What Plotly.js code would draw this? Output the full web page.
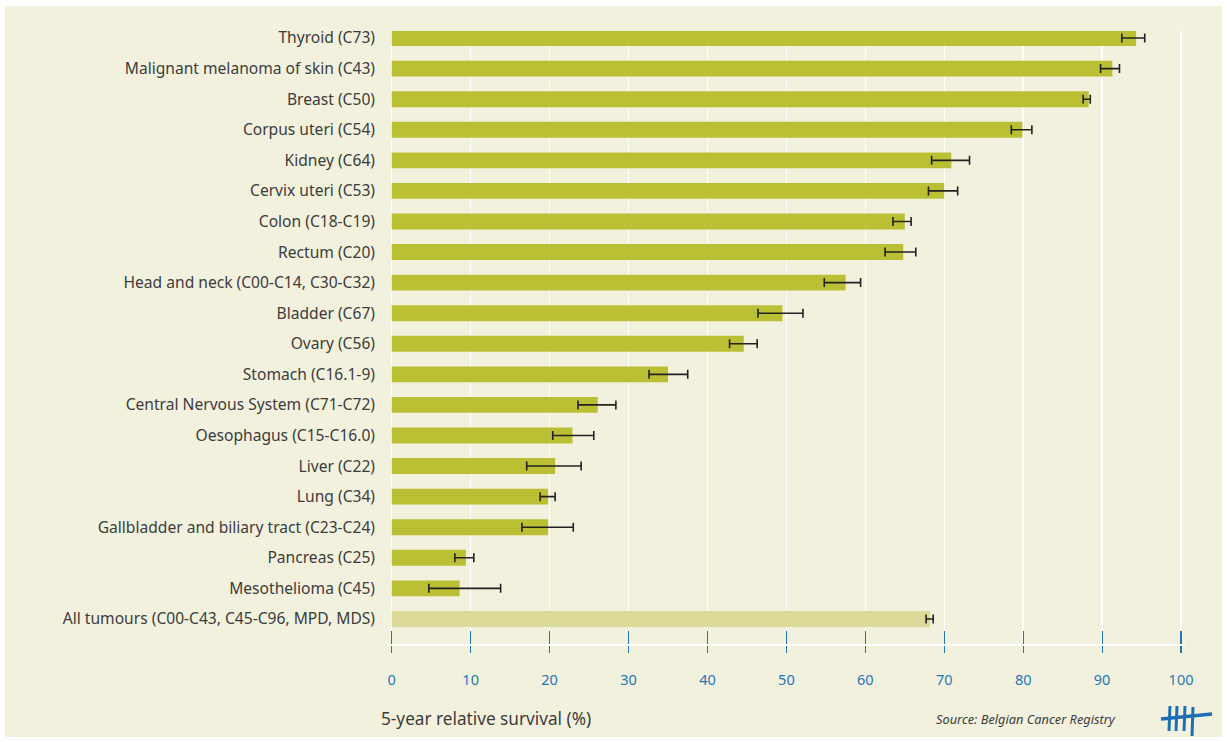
<!DOCTYPE html>
<html>
<head>
<meta charset="utf-8">
<script src="https://cdn.plot.ly/plotly-3.0.1.min.js"></script>
<style>
html,body{margin:0;padding:0;background:#ffffff;}
#chart{position:absolute;left:5px;top:6px;width:1217px;height:731px;}
</style>
</head>
<body>
<div id="chart"></div>
<script>
// ---- data ----
var categories = [
  "Thyroid (C73)",
  "Malignant melanoma of skin (C43)",
  "Breast (C50)",
  "Corpus uteri (C54)",
  "Kidney (C64)",
  "Cervix uteri (C53)",
  "Colon (C18-C19)",
  "Rectum (C20)",
  "Head and neck (C00-C14, C30-C32)",
  "Bladder (C67)",
  "Ovary (C56)",
  "Stomach (C16.1-9)",
  "Central Nervous System (C71-C72)",
  "Oesophagus (C15-C16.0)",
  "Liver (C22)",
  "Lung (C34)",
  "Gallbladder and biliary tract (C23-C24)",
  "Pancreas (C25)",
  "Mesothelioma (C45)",
  "All tumours (C00-C43, C45-C96, MPD, MDS)"
];
var survival = [94.3, 91.3, 88.3, 79.9, 70.9, 70.0, 65.0, 64.8, 57.5, 49.5, 44.6, 35.0, 26.1, 22.9, 20.7, 19.8, 19.8, 9.4, 8.6, 68.2];
var ciLower  = [92.5, 89.8, 87.6, 78.5, 68.4, 68.0, 63.5, 62.5, 54.8, 46.4, 42.8, 32.6, 23.6, 20.4, 17.1, 18.8, 16.5, 8.0, 4.7, 67.7];
var ciUpper  = [95.4, 92.2, 88.5, 81.1, 73.2, 71.7, 65.8, 66.4, 59.4, 52.1, 46.3, 37.5, 28.4, 25.6, 24.0, 20.7, 23.0, 10.4, 13.8, 68.6];
var xTicks = [0, 10, 20, 30, 40, 50, 60, 70, 80, 90, 100];
var totalLabel = "All tumours (C00-C43, C45-C96, MPD, MDS)";

// ---- styles ----
var BG = "#F2F1DE";
var GREEN = "#BBBF33";
var LIGHT = "#DBDA98";
var BLUE = "#1F77B8";
var TEXT = "#3C3C3C";
var FONT = "Noto Sans, Open Sans, sans-serif";

var colors = categories.map(function(c){ return c === totalLabel ? LIGHT : GREEN; });
var errPlus = survival.map(function(v,i){ return ciUpper[i] - v; });
var errMinus = survival.map(function(v,i){ return v - ciLower[i]; });

// layout geometry (div pixels)
var W = 1217, H = 731;
var mL = 383, mR = 37, mT = 25, mB = 93;
var pw = W - mL - mR, ph = H - mT - mB;
function PX(xi){ return (xi - 5 - mL) / pw; }
function PY(yi){ return (mT + ph - (yi - 6)) / ph; }

var trace = {
  type: "bar",
  orientation: "h",
  y: categories,
  x: survival,
  marker: {color: colors, line: {width: 0}},
  error_x: {
    type: "data", symmetric: false,
    array: errPlus, arrayminus: errMinus,
    color: "#222222", thickness: 1.6, width: 4.5
  },
  hoverinfo: "x+y"
};
var dummy = {type:"scatter", x:[0], y:[categories[0]], xaxis:"x2", mode:"markers", marker:{opacity:0}, hoverinfo:"skip", showlegend:false};

var logoColor = "#1C6FB5";
function seg(x0,y0,x1,y1,w){
  return {type:"line", xref:"paper", yref:"paper", x0:PX(x0), y0:PY(y0), x1:PX(x1), y1:PY(y1),
          line:{color:logoColor, width:w||3}};
}
var shapes = [
  seg(1170,706,1169,731,3),
  seg(1177,706,1176,731,3),
  seg(1185,706,1184,731,3),
  seg(1193,707,1192,736,3),
  seg(1161,719,1212,714,3.5)
];

var layout = {
  width: W, height: H,
  margin: {l: mL, r: mR, t: mT, b: mB, pad: 0},
  paper_bgcolor: BG,
  plot_bgcolor: BG,
  showlegend: false,
  bargap: 0.48,
  font: {family: FONT, color: TEXT, size: 14},
  xaxis: {
    range: [-0.47, 100.5],
    tickvals: xTicks,
    ticktext: xTicks.map(String),
    ticks: "outside", ticklen: 7, tickwidth: 1.2, tickcolor: BLUE,
    tickfont: {family: FONT, size: 14.5, color: BLUE},
    ticklabelstandoff: 15,
    showgrid: true, gridcolor: "#FFFFFF", gridwidth: 1.5,
    zeroline: true, zerolinecolor: "#FFFFFF", zerolinewidth: 1.5,
    showline: true, linecolor: "#FFFFFF", linewidth: 1.5,
    fixedrange: true
  },
  xaxis2: {
    overlaying: "x", anchor: "y", side: "bottom",
    range: [-0.47, 100.5],
    tickvals: xTicks,
    ticks: "inside", ticklen: 13, tickwidth: 1.2, tickcolor: BLUE,
    showticklabels: false, showgrid: false, zeroline: false, showline: false
  },
  yaxis: {
    type: "category",
    categoryorder: "array", categoryarray: categories,
    range: [19.82, -0.23],
    ticks: "", showgrid: false, zeroline: false, showline: false,
    tickfont: {family: FONT, size: 15.6, color: TEXT},
    ticklabelstandoff: 12,
    fixedrange: true
  },
  annotations: [
    {xref:"paper", yref:"paper", x: PX(379), y: PY(718), xanchor:"left", yanchor:"middle",
     text:"5-year relative survival (%)", showarrow:false,
     font:{family: FONT, size: 17.2, color: TEXT}},
    {xref:"paper", yref:"paper", x: PX(1118), y: PY(719), xanchor:"right", yanchor:"middle",
     text:"<i>Source: Belgian Cancer Registry</i>", showarrow:false,
     font:{family: FONT, size: 12.8, color: TEXT}}
  ],
  shapes: shapes
};

Plotly.newPlot("chart", [trace, dummy], layout, {displayModeBar: false, staticPlot: true});
</script>
</body>
</html>
